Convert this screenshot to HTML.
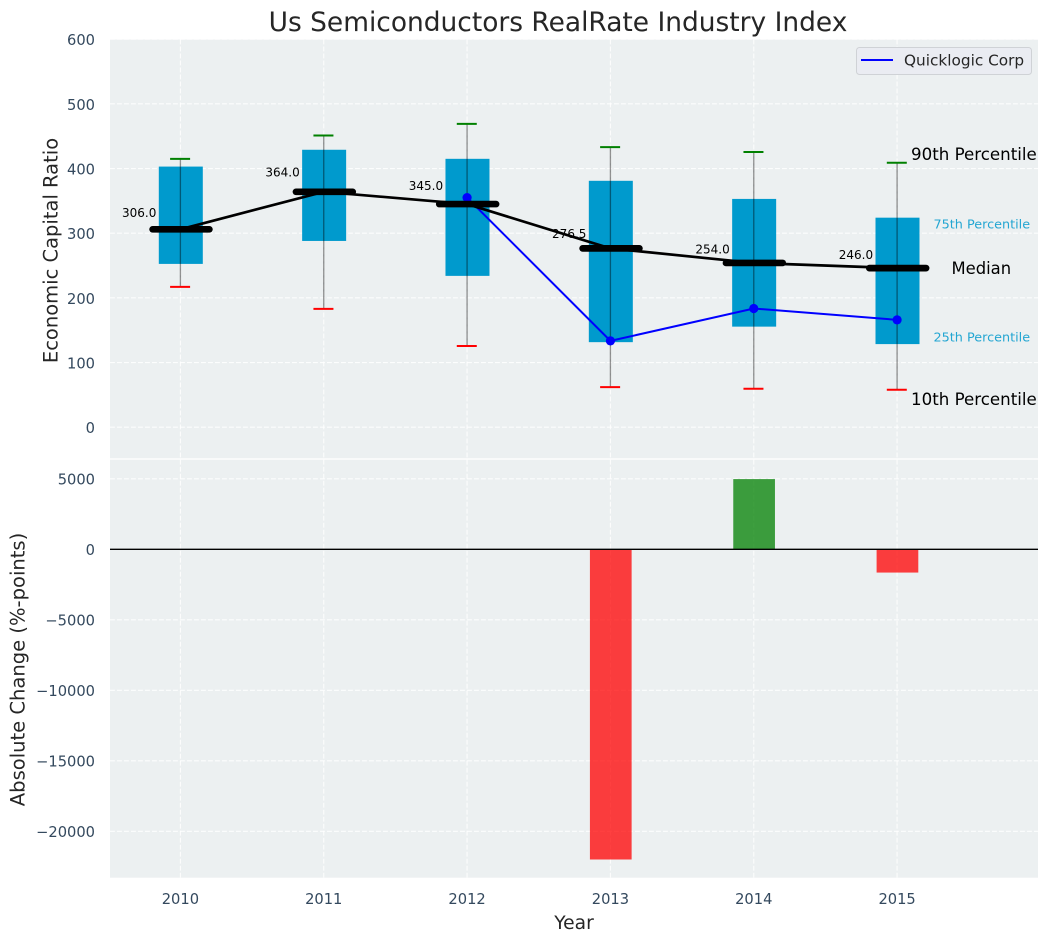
<!DOCTYPE html>
<html lang="en">
<head>
<meta charset="utf-8">
<title>Us Semiconductors RealRate Industry Index</title>
<style>
html,body{margin:0;padding:0;background:#fff;width:1048px;height:942px;overflow:hidden}
svg{display:block;font-family:"DejaVu Sans","Liberation Sans",sans-serif}
</style>
</head>
<body>
<svg id="chart" xmlns="http://www.w3.org/2000/svg" width="1048" height="942" viewBox="0 0 1048 942">
  <rect x="0" y="0" width="1048" height="942" fill="#ffffff"/>
  <rect x="110" y="39.5" width="928" height="418.8" fill="#ecf0f1"/>
  <rect x="110" y="459.7" width="928" height="418" fill="#ecf0f1"/>
  <g id="grid"></g>
  <g id="ticks"></g>
  <g id="lower"></g>
  <g id="boxes"></g>
  <g id="company"></g>
  <g id="median"></g>
  <text x="558" y="31" text-anchor="middle" font-size="26.45" fill="#262626">Us Semiconductors RealRate Industry Index</text>
  <text transform="translate(57.5,250.5) rotate(-90)" text-anchor="middle" font-size="19.5" fill="#262626">Economic Capital Ratio</text>
  <text transform="translate(24.5,669.5) rotate(-90)" text-anchor="middle" font-size="19.55" fill="#262626">Absolute Change (%-points)</text>
  <text x="574" y="929" text-anchor="middle" font-size="18.67" fill="#262626">Year</text>
  <text x="911" y="160" font-size="16.67" fill="#000000">90th Percentile</text>
  <text x="933.5" y="228.5" font-size="12.8" fill="#0099cc" fill-opacity="0.85">75th Percentile</text>
  <text x="951.5" y="274" font-size="16.4" fill="#000000">Median</text>
  <text x="933.5" y="341.5" font-size="12.8" fill="#0099cc" fill-opacity="0.85">25th Percentile</text>
  <text x="911" y="405" font-size="16.67" fill="#000000">10th Percentile</text>
  <g>
    <rect x="856.5" y="47.5" width="175" height="27" rx="3" fill="#eaecf2" stroke="#cfd2d6" stroke-width="1"/>
    <line x1="861" y1="60" x2="893" y2="60" stroke="#0000ff" stroke-width="2"/>
    <text x="904" y="65.5" font-size="15.3" fill="#262626">Quicklogic Corp</text>
  </g>
</svg>
<script>
const years = [2010, 2011, 2012, 2013, 2014, 2015];
const p90 = [415, 451, 469, 433, 425.5, 409];
const p75 = [403, 429, 415, 381, 353, 324];
const medians = [306, 364, 345, 276.5, 254, 246];
const p25 = [252.5, 288, 234, 131.5, 155.5, 128.5];
const p10 = [217, 183, 125.5, 62, 59.5, 58];
const companyYears = [2012, 2013, 2014, 2015];
const companyValues = [355, 133.5, 183.5, 166];
const changeYears = [2013, 2014, 2015];
const changeValues = [-22000, 4980, -1650];
const upperTicks = [0, 100, 200, 300, 400, 500, 600];
const lowerTicks = [5000, 0, -5000, -10000, -15000, -20000];

const NS = 'http://www.w3.org/2000/svg';
const xScale = y => 180.4 + (y - 2010) * 143.34;
const yUpper = v => 427.2 - v * 0.6467;
const yLower = v => 549.3 - v * 0.0141;
const make = (tag, attrs, parent) => {
  const el = document.createElementNS(NS, tag);
  Object.keys(attrs).forEach(k => el.setAttribute(k, attrs[k]));
  parent.appendChild(el);
  return el;
};
const fmt = v => String(v).replace('-', '\u2212');
const grid = document.getElementById('grid');
const ticks = document.getElementById('ticks');
const lower = document.getElementById('lower');
const boxes = document.getElementById('boxes');
const company = document.getElementById('company');
const median = document.getElementById('median');
const gridStyle = {stroke: '#ffffff', 'stroke-width': 1.1, 'stroke-dasharray': '4.9 2.1', 'stroke-opacity': 0.85};

upperTicks.forEach(t => {
  const line = make('line', Object.assign({x1: 110, x2: 1038, y1: yUpper(t), y2: yUpper(t)}, gridStyle), grid);
  
  
  const label = make('text', {x: 95, y: yUpper(t) + 6, 'text-anchor': 'end', 'font-size': 14.67, fill: '#34495e'}, ticks);
  label.textContent = fmt(t);
  
  
});
lowerTicks.forEach(t => {
  const line = make('line', Object.assign({x1: 110, x2: 1038, y1: yLower(t), y2: yLower(t)}, gridStyle), grid);
  
  
  const label = make('text', {x: 95, y: yLower(t) + 5.7, 'text-anchor': 'end', 'font-size': 14.67, fill: '#34495e'}, ticks);
  label.textContent = fmt(t);
  
  
});
years.forEach(y => {
  const up = make('line', Object.assign({x1: xScale(y), x2: xScale(y), y1: 39.5, y2: 458.3}, gridStyle), grid);
  
  
  const down = make('line', Object.assign({x1: xScale(y), x2: xScale(y), y1: 459.7, y2: 877.7}, gridStyle), grid);
  
  
  const label = make('text', {x: xScale(y), y: 904, 'text-anchor': 'middle', 'font-size': 14.67, fill: '#34495e'}, ticks);
  label.textContent = y;
  
  
});

changeYears.forEach((y, i) => {
  const v = changeValues[i];
  const top = Math.min(yLower(v), yLower(0));
  const h = Math.abs(yLower(v) - yLower(0));
  const bar = make('rect', {x: xScale(y) - 20.5, y: top, width: 41.7, height: h, fill: v >= 0 ? '#008000' : '#ff0000', 'fill-opacity': 0.75}, lower);
  
  
});
const zero = make('line', {x1: 110, x2: 1038, y1: yLower(0), y2: yLower(0), stroke: '#000000', 'stroke-width': 1.33}, lower);



years.forEach((y, i) => {
  const cx = xScale(y);
  const box = make('rect', {x: cx - 21.6, y: yUpper(p75[i]), width: 44, height: yUpper(p25[i]) - yUpper(p75[i]), fill: '#009acd'}, boxes);
  
  
  const whisker = make('line', {x1: cx, x2: cx, y1: yUpper(p90[i]), y2: yUpper(p10[i]), stroke: '#000000', 'stroke-opacity': 0.42, 'stroke-width': 1.33}, boxes);
  
  
  const capTop = make('line', {x1: cx - 10.3, x2: cx + 9.7, y1: yUpper(p90[i]), y2: yUpper(p90[i]), stroke: '#008000', 'stroke-width': 2}, boxes);
  
  
  const capBottom = make('line', {x1: cx - 10.3, x2: cx + 9.7, y1: yUpper(p10[i]), y2: yUpper(p10[i]), stroke: '#ff0000', 'stroke-width': 2}, boxes);
  
  
});

const companyLine = make('polyline', {
  points: companyYears.map((y, i) => xScale(y) + ',' + yUpper(companyValues[i])).join(' '),
  fill: 'none', stroke: '#0000ff', 'stroke-width': 2
}, company);


companyYears.forEach((y, i) => {
  const dot = make('circle', {cx: xScale(y), cy: yUpper(companyValues[i]), r: 4.6, fill: '#0000ff'}, company);
  
  
});

const medianLine = make('polyline', {
  points: years.map((y, i) => xScale(y) + ',' + yUpper(medians[i])).join(' '),
  fill: 'none', stroke: '#000000', 'stroke-width': 2.67
}, median);


years.forEach((y, i) => {
  const cx = xScale(y);
  const bar = make('line', {x1: cx - 27.8, x2: cx + 29, y1: yUpper(medians[i]), y2: yUpper(medians[i]), stroke: '#000000', 'stroke-width': 6.67, 'stroke-linecap': 'round'}, median);
  
  
  const label = make('text', {x: cx - 24, y: yUpper(medians[i] * 1.08) + 3.7, 'text-anchor': 'end', 'font-size': 12, fill: '#000000'}, median);
  label.textContent = medians[i].toFixed(1);
  
  
});
</script>
</body>
</html>
